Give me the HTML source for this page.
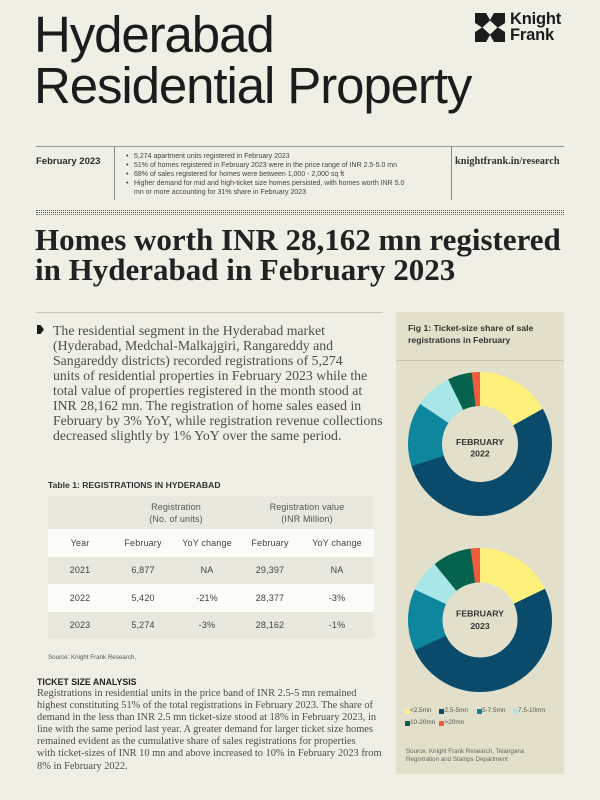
<!DOCTYPE html>
<html><head><meta charset="utf-8">
<style>
*{margin:0;padding:0;box-sizing:border-box}
html,body{width:600px;height:800px;overflow:hidden;background:#f0efe6}
body{position:relative;font-family:"Liberation Sans",Arial,sans-serif;color:#222}
.a{position:absolute;white-space:nowrap}
.serif{font-family:"Liberation Serif","Times New Roman",serif}
.c{position:absolute;text-align:center;white-space:nowrap;font-size:9px;letter-spacing:0.15px;color:#444}
.bl{position:relative;padding-left:8px}
.bl span{position:absolute;left:0;top:0}
.lg{position:absolute;width:5px;height:5px}
.lt{position:absolute;font-size:6.4px;line-height:8px;color:#555;white-space:nowrap}
</style></head><body>

<!-- Title -->
<div class="a" style="left:34px;top:9px;font-size:51px;line-height:51px;letter-spacing:-1.1px;color:#1c1c1c">Hyderabad<br>Residential Property</div>

<!-- Logo -->
<svg class="a" style="left:475px;top:13px" width="30" height="29" viewBox="0 0 30 29">
  <rect x="0" y="0" width="30" height="29" fill="#1c1c1c"/>
  <polygon points="11,0 19,0 15,7" fill="#f0efe6"/>
  <polygon points="11,29 19,29 15,22" fill="#f0efe6"/>
  <polygon points="0,10 0,19 7,14.5" fill="#f0efe6"/>
  <polygon points="30,10 30,19 23,14.5" fill="#f0efe6"/>
  <polygon points="15,7.5 22.5,14.5 15,21.5 7.5,14.5" fill="#f0efe6"/>
</svg>
<div class="a" style="left:510px;top:11px;font-size:16.5px;line-height:16px;font-weight:bold;color:#1c1c1c;letter-spacing:-0.2px">Knight<br>Frank</div>

<!-- Info bar -->
<div class="a" style="left:36px;top:146px;width:528px;height:1px;background:#9a9a94"></div>
<div class="a" style="left:114px;top:146px;width:1px;height:54px;background:#8a8a84"></div>
<div class="a" style="left:451px;top:146px;width:1px;height:54px;background:#8a8a84"></div>
<div class="a" style="left:36px;top:156px;font-size:9.5px;line-height:12px;font-weight:bold;color:#2a2a2a">February 2023</div>
<div class="a" style="left:126px;top:152px;font-size:7px;line-height:9.1px;color:#444">
  <div class="bl"><span>•</span>5,274 apartment units registered in February 2023</div>
  <div class="bl"><span>•</span>51% of homes registered in February 2023 were in the price range of INR 2.5-5.0 mn</div>
  <div class="bl"><span>•</span>68% of sales registered for homes were between 1,000 - 2,000 sq ft</div>
  <div class="bl"><span>•</span>Higher demand for mid and high-ticket size homes persisted, with homes worth INR 5.0</div>
  <div class="bl">mn or more accounting for 31% share in February 2023</div>
</div>
<div class="a serif" style="left:455px;top:156px;font-size:10.3px;line-height:12px;font-weight:bold;color:#333">knightfrank.in/research</div>

<!-- Dotted band -->
<div class="a" style="left:36px;top:210px;width:528px;height:1px;border-top:1px dotted #555"></div>
<div class="a" style="left:36px;top:212px;width:528px;height:1px;border-top:1px dotted #555"></div>
<div class="a" style="left:36px;top:214px;width:528px;height:1px;border-top:1px dotted #666"></div>

<!-- Headline -->
<div class="a serif" style="left:35px;top:224.5px;font-size:31px;line-height:30px;font-weight:bold;color:#222">Homes worth INR 28,162 mn registered<br>in Hyderabad in February 2023</div>

<div class="a" style="left:36px;top:312px;width:347px;height:1px;background:#c9c8be"></div>

<!-- Paragraph -->
<svg class="a" style="left:36px;top:324px" width="10" height="11" viewBox="0 0 10 11">
  <polygon points="1,1 4.5,1 8,5.5 4.5,10 1,10" fill="#1c1c1c"/>
</svg>
<div class="a serif" style="left:53px;top:323px;font-size:13.8px;line-height:15px;color:#4d4d4d">The residential segment in the Hyderabad market<br>(Hyderabad, Medchal-Malkajgiri, Rangareddy and<br>Sangareddy districts) recorded registrations of 5,274<br>units of residential properties in February 2023 while the<br>total value of properties registered in the month stood at<br>INR 28,162 mn. The registration of home sales eased in<br>February by 3% YoY, while registration revenue collections<br>decreased slightly by 1% YoY over the same period.</div>

<!-- Table -->
<div class="a" style="left:48px;top:480px;font-size:8.6px;line-height:10px;font-weight:bold;color:#333">Table 1: REGISTRATIONS IN HYDERABAD</div>
<div class="a" style="left:48px;top:496px;width:326px;height:33px;background:#e9e8df"></div>
<div class="a" style="left:48px;top:529px;width:326px;height:28px;background:#fbfbf8"></div>
<div class="a" style="left:48px;top:557px;width:326px;height:27px;background:#e9e8df"></div>
<div class="a" style="left:48px;top:584px;width:326px;height:28px;background:#fbfbf8"></div>
<div class="a" style="left:48px;top:612px;width:326px;height:27px;background:#e9e8df"></div>

<div class="c" style="left:112px;width:128px;top:501px;line-height:12px;color:#555">Registration<br>(No. of units)</div>
<div class="c" style="left:240px;width:134px;top:501px;line-height:12px;color:#555">Registration value<br>(INR Million)</div>

<div class="c" style="left:48px;width:64px;top:529px;line-height:28px">Year</div>
<div class="c" style="left:112px;width:62px;top:529px;line-height:28px">February</div>
<div class="c" style="left:174px;width:66px;top:529px;line-height:28px">YoY change</div>
<div class="c" style="left:240px;width:60px;top:529px;line-height:28px">February</div>
<div class="c" style="left:300px;width:74px;top:529px;line-height:28px">YoY change</div>

<div class="c" style="left:48px;width:64px;top:557px;line-height:27px">2021</div>
<div class="c" style="left:112px;width:62px;top:557px;line-height:27px">6,877</div>
<div class="c" style="left:174px;width:66px;top:557px;line-height:27px">NA</div>
<div class="c" style="left:240px;width:60px;top:557px;line-height:27px">29,397</div>
<div class="c" style="left:300px;width:74px;top:557px;line-height:27px">NA</div>

<div class="c" style="left:48px;width:64px;top:584px;line-height:28px">2022</div>
<div class="c" style="left:112px;width:62px;top:584px;line-height:28px">5,420</div>
<div class="c" style="left:174px;width:66px;top:584px;line-height:28px">-21%</div>
<div class="c" style="left:240px;width:60px;top:584px;line-height:28px">28,377</div>
<div class="c" style="left:300px;width:74px;top:584px;line-height:28px">-3%</div>

<div class="c" style="left:48px;width:64px;top:612px;line-height:27px">2023</div>
<div class="c" style="left:112px;width:62px;top:612px;line-height:27px">5,274</div>
<div class="c" style="left:174px;width:66px;top:612px;line-height:27px">-3%</div>
<div class="c" style="left:240px;width:60px;top:612px;line-height:27px">28,162</div>
<div class="c" style="left:300px;width:74px;top:612px;line-height:27px">-1%</div>

<div class="a" style="left:48px;top:654px;font-size:6.2px;line-height:8px;color:#555">Source: Knight Frank Research,</div>

<!-- Ticket size analysis -->
<div class="a" style="left:37px;top:677px;font-size:8.8px;line-height:10px;font-weight:bold;color:#222">TICKET SIZE ANALYSIS</div>
<div class="a serif" style="left:37px;top:687.5px;font-size:10.4px;line-height:12.17px;color:#4d4d4d">Registrations in residential units in the price band of INR 2.5-5 mn remained<br>highest constituting 51% of the total registrations in February 2023. The share of<br>demand in the less than INR 2.5 mn ticket-size stood at 18% in February 2023, in<br>line with the same period last year. A greater demand for larger ticket size homes<br>remained evident as the cumulative share of sales registrations for properties<br>with ticket-sizes of INR 10 mn and above increased to 10% in February 2023 from<br>8% in February 2022.</div>

<!-- Right panel -->
<div class="a" style="left:396px;top:312px;width:168px;height:462px;background:#e2e0ca"></div>
<div class="a" style="left:408px;top:323.3px;font-size:8.7px;line-height:11.5px;font-weight:bold;color:#333">Fig 1: Ticket-size share of sale<br>registrations in February</div>
<div class="a" style="left:396px;top:360px;width:168px;height:1px;background:#c8c6ae"></div>

<svg class="a" style="left:0;top:0" width="600" height="800">
  <g transform="rotate(-90 480 444)" fill="none" stroke-width="34">
    <circle cx="480" cy="444" r="55" stroke="#fdf07c" stroke-dasharray="58.8 400" stroke-dashoffset="0"/>
    <circle cx="480" cy="444" r="55" stroke="#0a4b6c" stroke-dasharray="184.1 400" stroke-dashoffset="-58.17"/>
    <circle cx="480" cy="444" r="55" stroke="#0e869d" stroke-dasharray="50.2 400" stroke-dashoffset="-241.71"/>
    <circle cx="480" cy="444" r="55" stroke="#a9e6e7" stroke-dasharray="29.3 400" stroke-dashoffset="-291.34"/>
    <circle cx="480" cy="444" r="55" stroke="#05634d" stroke-dasharray="19.3 400" stroke-dashoffset="-320.04"/>
    <circle cx="480" cy="444" r="55" stroke="#ef5b3d" stroke-dasharray="6.82 400" stroke-dashoffset="-338.76"/>
  </g>
  <g transform="rotate(-90 480 620)" fill="none" stroke-width="34.5">
    <circle cx="480" cy="620" r="54.75" stroke="#fdf07c" stroke-dasharray="62.2 400" stroke-dashoffset="0"/>
    <circle cx="480" cy="620" r="54.75" stroke="#0a4b6c" stroke-dasharray="174.0 400" stroke-dashoffset="-61.35"/>
    <circle cx="480" cy="620" r="54.75" stroke="#0e869d" stroke-dasharray="48.4 400" stroke-dashoffset="-234.0"/>
    <circle cx="480" cy="620" r="54.75" stroke="#a9e6e7" stroke-dasharray="25.3 400" stroke-dashoffset="-281.7"/>
    <circle cx="480" cy="620" r="54.75" stroke="#05634d" stroke-dasharray="30.6 400" stroke-dashoffset="-306.35"/>
    <circle cx="480" cy="620" r="54.75" stroke="#ef5b3d" stroke-dasharray="7.7 400" stroke-dashoffset="-336.4"/>
  </g>
  <g font-family="Liberation Sans, Arial, sans-serif" font-weight="bold" font-size="8.7" fill="#333" text-anchor="middle">
    <text x="480" y="444.8">FEBRUARY</text>
    <text x="480" y="456.4">2022</text>
    <text x="480" y="616.4">FEBRUARY</text>
    <text x="480" y="629">2023</text>
  </g>
</svg>

<!-- Legend -->
<div class="lg" style="left:405px;top:708.5px;background:#fdf07c"></div>
<div class="lt" style="left:410px;top:707px">&lt;2.5mn</div>
<div class="lg" style="left:439px;top:708.5px;background:#0a4b6c"></div>
<div class="lt" style="left:444.5px;top:707px">2.5-5mn</div>
<div class="lg" style="left:477px;top:708.5px;background:#0e869d"></div>
<div class="lt" style="left:482px;top:707px">5-7.5mn</div>
<div class="lg" style="left:513px;top:708.5px;background:#a9e6e7"></div>
<div class="lt" style="left:518px;top:707px">7.5-10mn</div>
<div class="lg" style="left:405px;top:720.5px;background:#05634d"></div>
<div class="lt" style="left:410px;top:719px">10-20mn</div>
<div class="lg" style="left:439px;top:720.5px;background:#ef5b3d"></div>
<div class="lt" style="left:444.5px;top:719px">&gt;20mn</div>

<div class="a" style="left:406px;top:748px;font-size:6.2px;line-height:8.3px;color:#666">Source: Knight Frank Research, Telangana<br>Registration and Stamps Department</div>

</body></html>
